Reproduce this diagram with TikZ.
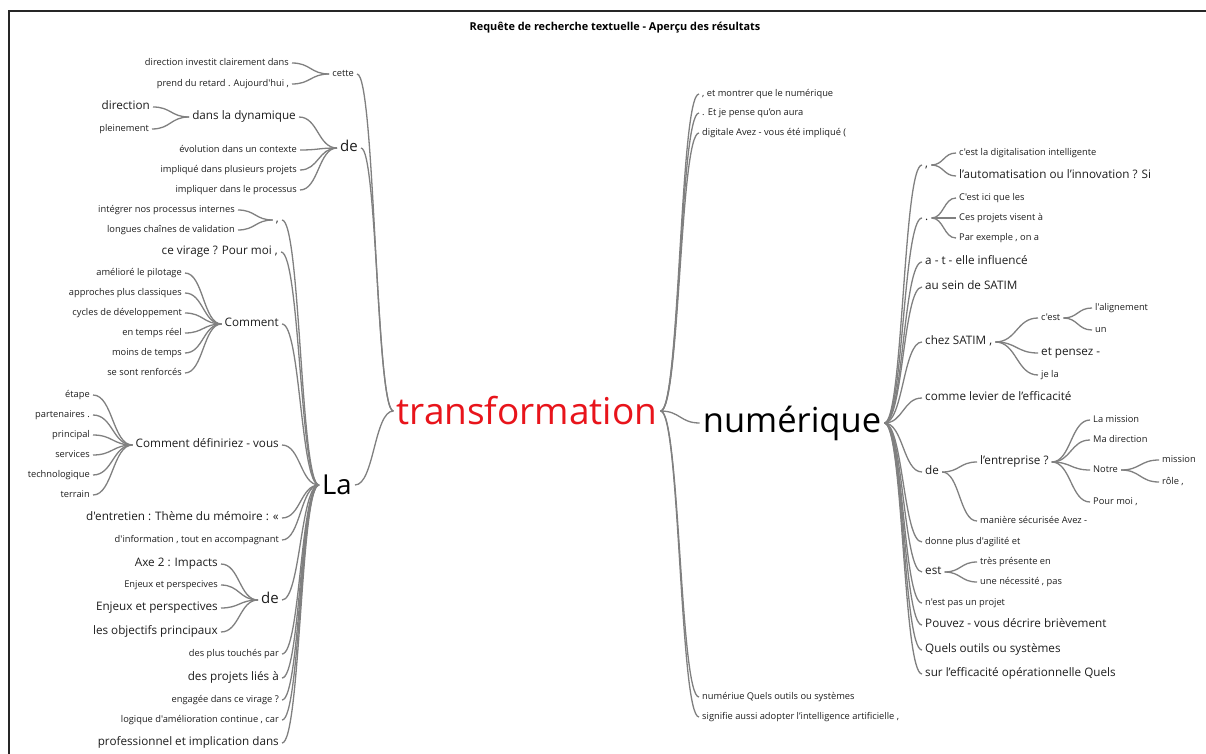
\documentclass[tikz,border=0pt]{standalone}
\usepackage{fontspec}
\newfontfamily\osans{Open Sans}
\usetikzlibrary{calc}
\definecolor{txt}{HTML}{1E1E1E}
\definecolor{ln}{HTML}{808080}
\definecolor{hot}{HTML}{E8141B}
\newcommand\fs[1]{\osans\fontsize{#1}{#1}\selectfont}
% smooth bracket-like link from the right end of one word to the left end of the next
\newcommand\lnk[2]{\draw[conn] let \p1=(#1.east), \p2=(#2.west) in (\p1) .. controls ({(\x1+\x2)/2},\y1) and ({(\x1+\x2)/2},\y2) .. (\p2);}
\tikzset{
  conn/.style={draw=ln, line width=1.3pt},
  frame/.style={draw=black!85, line width=1.4pt},
  w/.style={inner xsep=3pt, inner ysep=0pt, text=txt},
  sm/.style={w, font=\fs{9.3}, text height=6.8pt, text depth=2.2pt},
  md/.style={w, font=\fs{11.7}, text height=8.5pt, text depth=2.8pt},
  lg/.style={w, font=\fs{15}, text height=11pt, text depth=3.6pt},
  ttl/.style={inner sep=0pt, text=black, font={\fs{10.9}\bfseries}},
  ea/.style={anchor=east},
  we/.style={anchor=west},
}
\begin{document}
\begin{tikzpicture}[x=1pt,y=-1pt]
\useasboundingbox (0,0) rectangle (1206,754);
\fill[white] (0,0) rectangle (1206,754);
\draw[frame] (1206,11) -- (9,11) -- (9,754);
\node[ttl] (title) at (615,28) {Requête de recherche textuelle - Aperçu des résultats};

% central words
\node[w, font=\fs{37}, text=hot] (tr) at (527,411) {transformation};
\node[w, font=\fs{34.5}, text=black] (num) at (792,423) {numérique};
\node[w, font=\fs{27.5}, text=black] (La) at (337,485) {La};

% ---------- left of "transformation" ----------
\node[sm,ea] (a1) at (292,63) {direction investit clairement dans};
\node[sm,ea] (a2) at (292,84) {prend du retard . Aujourd'hui ,};
\node[sm,ea] (cette) at (357,74) {cette};
\node[md,ea] (a3) at (153,107) {direction};
\node[sm,ea] (a4) at (152,129) {pleinement};
\node[md,ea] (dyn) at (299,117) {dans la dynamique};
\node[sm,ea] (a5) at (300,150) {évolution dans un contexte};
\node[sm,ea] (a6) at (300,170) {impliqué dans plusieurs projets};
\node[sm,ea] (a7) at (300,190) {impliquer dans le processus};
\node[lg,ea] (deA) at (361,148) {de};

% ---------- left of "La" ----------
\node[sm,ea] (b1) at (238,210) {intégrer nos processus internes};
\node[sm,ea] (b2) at (238,230) {longues chaînes de validation};
\node[md,ea] (cmL) at (282,220) {,};
\node[md,ea] (b3) at (281,252) {ce virage ? Pour moi ,};
\node[sm,ea] (c1) at (185,273) {amélioré le pilotage};
\node[sm,ea] (c2) at (185,293) {approches plus classiques};
\node[sm,ea] (c3) at (185,313) {cycles de développement};
\node[sm,ea] (c4) at (185,333) {en temps réel};
\node[sm,ea] (c5) at (185,353) {moins de temps};
\node[sm,ea] (c6) at (185,373) {se sont renforcés};
\node[md,ea] (com) at (282,324) {Comment};
\node[sm,ea] (d1) at (93,395) {étape};
\node[sm,ea] (d2) at (93,415) {partenaires .};
\node[sm,ea] (d3) at (93,435) {principal};
\node[sm,ea] (d4) at (93,455) {services};
\node[sm,ea] (d5) at (93,475) {technologique};
\node[sm,ea] (d6) at (93,495) {terrain};
\node[md,ea] (cdv) at (282,445) {Comment définiriez - vous};
\node[md,ea] (b4) at (282,518) {d'entretien : Thème du mémoire : «};
\node[sm,ea] (b5) at (282,540) {d'information , tout en accompagnant};
\node[md,ea] (e1) at (221,564) {Axe 2 : Impacts};
\node[sm,ea] (e2) at (221,585) {Enjeux et perspecives};
\node[md,ea] (e3) at (221,608) {Enjeux et perspectives};
\node[md,ea] (e4) at (221,632) {les objectifs principaux};
\node[lg,ea] (deB) at (282,600) {de};
\node[sm,ea] (b6) at (282,654) {des plus touchés par};
\node[md,ea] (b7) at (282,678) {des projets liés à};
\node[sm,ea] (b8) at (282,700) {engagée dans ce virage ?};
\node[sm,ea] (b9) at (282,720) {logique d'amélioration continue , car};
\node[md,ea] (b10) at (282,743) {professionnel et implication dans};

% ---------- right of "transformation" ----------
\node[sm,we] (r1) at (699,94) {, et montrer que le numérique};
\node[sm,we] (r2) at (699,113) {. Et je pense qu’on aura};
\node[sm,we] (r3) at (699,133) {digitale Avez - vous été impliqué (};
\node[sm,we] (r4) at (699,697) {numériue Quels outils ou systèmes};
\node[sm,we] (r5) at (699,717) {signifie aussi adopter l’intelligence artificielle ,};

% ---------- right of "numérique" ----------
\node[md,we] (cmR) at (922,165) {,};
\node[sm,we] (f1) at (956,153) {c'est la digitalisation intelligente};
\node[md,we] (f2) at (956,176) {l’automatisation ou l’innovation ? Si};
\node[md,we] (dtR) at (922,218) {.};
\node[sm,we] (f3) at (956,198) {C'est ici que les};
\node[sm,we] (f4) at (956,218) {Ces projets visent à};
\node[sm,we] (f5) at (956,238) {Par exemple , on a};
\node[md,we] (g1) at (922,262) {a - t - elle influencé};
\node[md,we] (g2) at (922,287) {au sein de SATIM};
\node[md,we] (sat) at (922,342) {chez SATIM ,};
\node[sm,we] (cest) at (1038,318) {c'est};
\node[sm,we] (h1) at (1092,308) {l'alignement};
\node[sm,we] (h2) at (1092,330) {un};
\node[md,we] (h3) at (1038,353) {et pensez -};
\node[sm,we] (h4) at (1038,375) {je la};
\node[md,we] (g3) at (922,398) {comme levier de l’efficacité};
\node[md,we] (deR) at (922,472) {de};
\node[md,we] (ent) at (977,462) {l’entreprise ?};
\node[sm,we] (k1) at (1090,420) {La mission};
\node[sm,we] (k2) at (1090,440) {Ma direction};
\node[sm,we] (notre) at (1090,470) {Notre};
\node[sm,we] (m1) at (1159,460) {mission};
\node[sm,we] (m2) at (1159,482) {rôle ,};
\node[sm,we] (k3) at (1090,502) {Pour moi ,};
\node[sm,we] (k4) at (977,521) {manière sécurisée Avez -};
\node[sm,we] (g4) at (922,542) {donne plus d'agilité et};
\node[md,we] (est) at (922,572) {est};
\node[sm,we] (n1) at (977,562) {très présente en};
\node[sm,we] (n2) at (977,582) {une nécessité , pas};
\node[sm,we] (g5) at (922,603) {n'est pas un projet};
\node[md,we] (g6) at (922,625) {Pouvez - vous décrire brièvement};
\node[md,we] (g7) at (922,650) {Quels outils ou systèmes};
\node[md,we] (g8) at (922,674) {sur l’efficacité opérationnelle Quels};

% ---------- links ----------
\lnk{a1}{cette} \lnk{a2}{cette}
\lnk{a3}{dyn} \lnk{a4}{dyn}
\lnk{dyn}{deA} \lnk{a5}{deA} \lnk{a6}{deA} \lnk{a7}{deA}
\lnk{cette}{tr} \lnk{deA}{tr} \lnk{La}{tr}

\lnk{b1}{cmL} \lnk{b2}{cmL}
\foreach \c in {c1,c2,c3,c4,c5,c6} {\lnk{\c}{com}}
\foreach \d in {d1,d2,d3,d4,d5,d6} {\lnk{\d}{cdv}}
\foreach \e in {e1,e2,e3,e4} {\lnk{\e}{deB}}
\foreach \b in {cmL,b3,com,cdv,b4,b5,deB,b6,b7,b8,b9,b10} {\lnk{\b}{La}}

\foreach \r in {r1,r2,r3,num,r4,r5} {\lnk{tr}{\r}}

\foreach \g in {cmR,dtR,g1,g2,sat,g3,deR,g4,est,g5,g6,g7,g8} {\lnk{num}{\g}}
\lnk{cmR}{f1} \lnk{cmR}{f2}
\lnk{dtR}{f3} \lnk{dtR}{f4} \lnk{dtR}{f5}
\lnk{sat}{cest} \lnk{sat}{h3} \lnk{sat}{h4}
\lnk{cest}{h1} \lnk{cest}{h2}
\lnk{deR}{ent} \lnk{deR}{k4}
\lnk{ent}{k1} \lnk{ent}{k2} \lnk{ent}{notre} \lnk{ent}{k3}
\lnk{notre}{m1} \lnk{notre}{m2}
\lnk{est}{n1} \lnk{est}{n2}
\end{tikzpicture}
\end{document}
